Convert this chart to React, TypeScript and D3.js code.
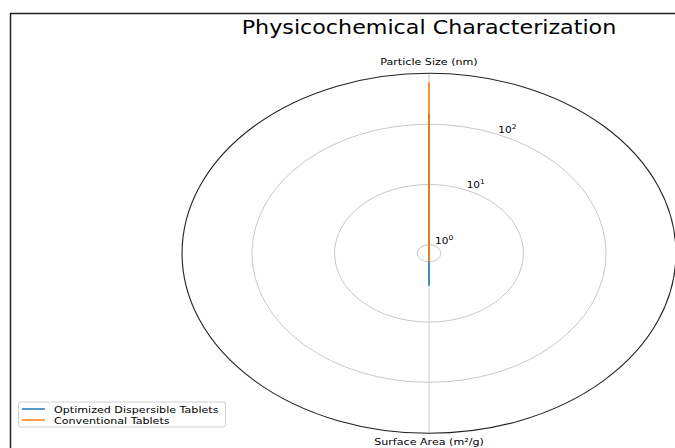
import React from "react";
import * as d3 from "d3";

const categories = ["Particle Size (nm)", "Surface Area (m²/g)"];
const seriesNames = ["Optimized Dispersible Tablets", "Conventional Tablets"];
const optimized = [150, 2.5];
const conventional = [500, 1];
const radialTicks = [1, 10, 100];
const colors = ["#1f77b4", "#ff7f0e"];

const W = 675;
const H = 448;
const cx = 429;
const cy = 253.3;
const ry = 180;
const sx = 1.372;
const k = 1.17;

export default function App() {
  const r = d3.scaleLog().domain([0.72, 702]).range([0, ry]);
  const angle = d3.scalePoint<string>().domain(categories).range([0, Math.PI]);
  const toXY = (a: number, v: number): [number, number] => {
    const rr = r(v);
    return [cx + sx * rr * Math.sin(a), cy - rr * Math.cos(a)];
  };
  const line = d3
    .line<[number, number]>()
    .x((d) => d[0])
    .y((d) => d[1]);
  const series = [optimized, conventional];
  const paths = series.map((vals) => {
    const pts = categories.map((c, i) => toXY(angle(c)!, vals[i]));
    pts.push(pts[0]);
    return line(pts)!;
  });
  const labelAngle = (22.5 * Math.PI) / 180;
  const font = "DejaVu Sans, sans-serif";

  return (
    <svg
      width={W}
      height={H}
      style={{ position: "absolute", left: 0, top: 0, background: "#fff" }}
      fontFamily={font}
    >
      <rect x={0} y={0} width={W} height={H} fill="#fff" />
      {/* frame */}
      <line x1={10} y1={13.5} x2={W} y2={13.5} stroke="#222" strokeWidth={1.5} />
      <line x1={10.5} y1={13} x2={10.5} y2={H} stroke="#222" strokeWidth={1.5} />
      {/* title */}
      <text
        transform={`translate(${cx},${34}) scale(${k},1)`}
        textAnchor="middle"
        fontSize={19}
        fill="#000"
      >
        Physicochemical Characterization
      </text>
      {/* radial grid */}
      {radialTicks.map((t) => (
        <ellipse
          key={t}
          cx={cx}
          cy={cy}
          rx={sx * r(t)}
          ry={r(t)}
          fill="none"
          stroke="#c8c8c8"
          strokeWidth={1}
        />
      ))}
      {/* angular grid */}
      {categories.map((c) => {
        const [x, y] = toXY(angle(c)!, 702);
        return (
          <line key={c} x1={cx} y1={cy} x2={x} y2={y} stroke="#c8c8c8" strokeWidth={1} />
        );
      })}
      {/* outer */}
      <ellipse cx={cx} cy={cy} rx={sx * ry} ry={ry} fill="none" stroke="#222" strokeWidth={1.1} />
      {/* series */}
      {paths.map((p, i) => (
        <path key={i} d={p} fill="none" stroke={colors[i]} strokeWidth={1.6} />
      ))}
      {/* radial tick labels */}
      {radialTicks.map((t) => {
        const [x, y] = toXY(labelAngle, t);
        const exp = Math.round(Math.log10(t));
        return (
          <text
            key={t}
            transform={`translate(${x + 1.5},${y - 1.5}) scale(${k},1)`}
            fontSize={9}
            fill="#000"
          >
            10
            <tspan fontSize={6.5} dy={-4}>
              {exp}
            </tspan>
          </text>
        );
      })}
      {/* category labels */}
      <text
        transform={`translate(${cx},${65}) scale(${k},1)`}
        textAnchor="middle"
        fontSize={9.5}
        fill="#000"
      >
        {categories[0]}
      </text>
      <text
        transform={`translate(${cx},${445}) scale(${k},1)`}
        textAnchor="middle"
        fontSize={9.5}
        fill="#000"
      >
        {categories[1]}
      </text>
      {/* legend */}
      <rect x={18.5} y={402} width={207} height={25} rx={2} fill="#fff" stroke="#d0d0d0" strokeWidth={1} />
      {seriesNames.map((n, i) => (
        <g key={n}>
          <line x1={22} y1={409 + i * 11} x2={45} y2={409 + i * 11} stroke={colors[i]} strokeWidth={1.5} />
          <text
            transform={`translate(54,${412.5 + i * 11}) scale(${k},1)`}
            fontSize={9.5}
            fill="#000"
          >
            {n}
          </text>
        </g>
      ))}
    </svg>
  );
}
